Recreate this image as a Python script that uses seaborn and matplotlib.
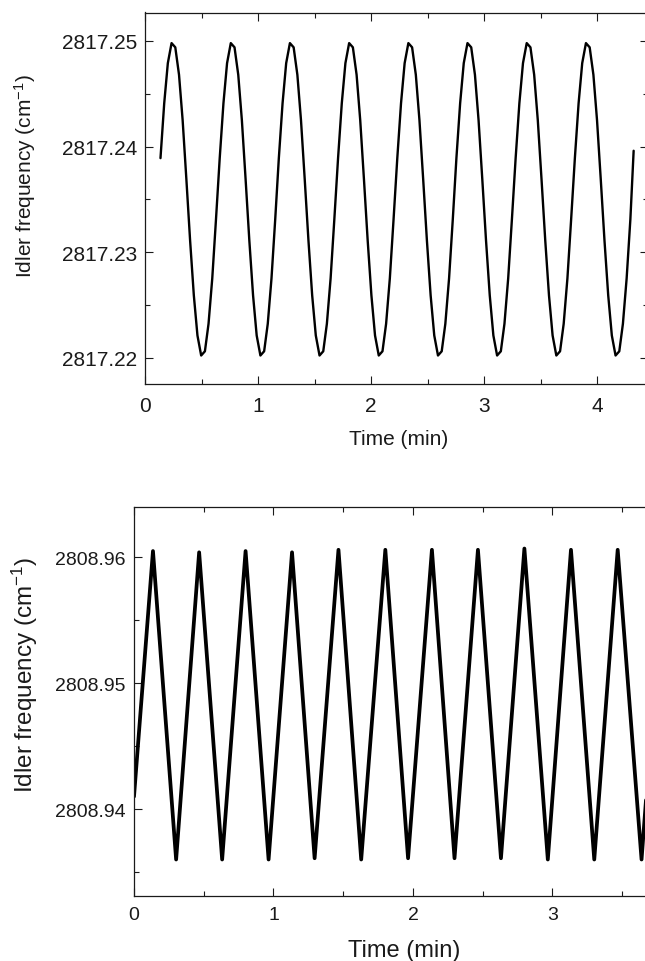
import matplotlib

matplotlib.use("Agg")
import matplotlib.pyplot as plt
import seaborn as sns
from matplotlib.ticker import FormatStrFormatter, MultipleLocator

# Top trace: sinusoidal idler tuning (min, cm-1)
TOP_TIME = [
    0.137, 0.170, 0.202, 0.235, 0.268, 0.301, 0.333, 0.366, 0.399, 0.432, 0.464, 0.497, 0.530, 0.562, 0.595, 0.628,
    0.661, 0.694, 0.726, 0.759, 0.792, 0.825, 0.857, 0.890, 0.923, 0.956, 0.988, 1.021, 1.054, 1.086, 1.119, 1.152,
    1.184, 1.217, 1.249, 1.282, 1.315, 1.348, 1.380, 1.413, 1.446, 1.479, 1.511, 1.544, 1.577, 1.609, 1.642, 1.675,
    1.708, 1.741, 1.773, 1.806, 1.839, 1.872, 1.904, 1.937, 1.970, 2.003, 2.035, 2.068, 2.101, 2.133, 2.166, 2.199,
    2.232, 2.265, 2.297, 2.330, 2.363, 2.396, 2.428, 2.461, 2.494, 2.527, 2.559, 2.592, 2.625, 2.657, 2.690, 2.723,
    2.755, 2.788, 2.820, 2.853, 2.886, 2.919, 2.951, 2.984, 3.017, 3.050, 3.082, 3.115, 3.148, 3.180, 3.213, 3.246,
    3.279, 3.312, 3.344, 3.377, 3.410, 3.443, 3.475, 3.508, 3.541, 3.574, 3.606, 3.639, 3.672, 3.704, 3.737, 3.770,
    3.803, 3.836, 3.868, 3.901, 3.934, 3.967, 3.999, 4.032, 4.065, 4.098, 4.130, 4.163, 4.196, 4.228, 4.261, 4.294,
    4.323,
]
TOP_FREQ = [
    2817.2389, 2817.2441, 2817.2479, 2817.2498, 2817.2494, 2817.2468, 2817.2425, 2817.2369,
    2817.2311, 2817.2259, 2817.2221, 2817.2202, 2817.2206, 2817.2232, 2817.2275, 2817.2331,
    2817.2389, 2817.2441, 2817.2479, 2817.2498, 2817.2494, 2817.2468, 2817.2425, 2817.2369,
    2817.2311, 2817.2259, 2817.2221, 2817.2202, 2817.2206, 2817.2232, 2817.2275, 2817.2331,
    2817.2389, 2817.2441, 2817.2479, 2817.2498, 2817.2494, 2817.2468, 2817.2425, 2817.2369,
    2817.2311, 2817.2259, 2817.2221, 2817.2202, 2817.2206, 2817.2232, 2817.2275, 2817.2331,
    2817.2389, 2817.2441, 2817.2479, 2817.2498, 2817.2494, 2817.2468, 2817.2425, 2817.2369,
    2817.2311, 2817.2259, 2817.2221, 2817.2202, 2817.2206, 2817.2232, 2817.2275, 2817.2331,
    2817.2389, 2817.2441, 2817.2479, 2817.2498, 2817.2494, 2817.2468, 2817.2425, 2817.2369,
    2817.2311, 2817.2259, 2817.2221, 2817.2202, 2817.2206, 2817.2232, 2817.2275, 2817.2331,
    2817.2389, 2817.2441, 2817.2479, 2817.2498, 2817.2494, 2817.2468, 2817.2425, 2817.2369,
    2817.2311, 2817.2259, 2817.2221, 2817.2202, 2817.2206, 2817.2232, 2817.2275, 2817.2331,
    2817.2389, 2817.2441, 2817.2479, 2817.2498, 2817.2494, 2817.2468, 2817.2425, 2817.2369,
    2817.2311, 2817.2259, 2817.2221, 2817.2202, 2817.2206, 2817.2232, 2817.2275, 2817.2331,
    2817.2389, 2817.2441, 2817.2479, 2817.2498, 2817.2494, 2817.2468, 2817.2425, 2817.2369,
    2817.2311, 2817.2259, 2817.2221, 2817.2202, 2817.2206, 2817.2232, 2817.2275, 2817.2331,
    2817.2396,
]

# Bottom trace: triangular tuning, turning points
BOTTOM_TIME = [
    0.000, 0.136, 0.302, 0.467, 0.632, 0.800, 0.965, 1.133, 1.295, 1.466, 1.629, 1.802,
    1.965, 2.136, 2.298, 2.466, 2.631, 2.799, 2.967, 3.133, 3.300, 3.468, 3.639, 3.805,
]
BOTTOM_FREQ = [
    2808.9410, 2808.9605, 2808.9360, 2808.9604, 2808.9360, 2808.9605, 2808.9360, 2808.9604,
    2808.9361, 2808.9606, 2808.9360, 2808.9606, 2808.9361, 2808.9606, 2808.9361, 2808.9606,
    2808.9361, 2808.9607, 2808.9360, 2808.9606, 2808.9360, 2808.9606, 2808.9360, 2808.9605,
]

TOP_YTICKS = [2817.22, 2817.23, 2817.24, 2817.25]
BOTTOM_YTICKS = [2808.94, 2808.95, 2808.96]

YLABEL = r"Idler frequency (cm$^{-1}$)"
XLABEL = "Time (min)"
INK = "#1a1a1a"


def style_axis(ax, labelsize, xpad, ypad):
    ax.xaxis.set_major_locator(MultipleLocator(1))
    ax.xaxis.set_minor_locator(MultipleLocator(0.5))
    ax.yaxis.set_major_formatter(FormatStrFormatter("%.2f"))
    ax.tick_params(which="both", direction="in", top=True, right=True, width=0.8, color=INK)
    ax.tick_params(which="major", length=5.5)
    ax.tick_params(which="minor", length=3.5)
    ax.tick_params(axis="x", which="major", labelsize=labelsize, pad=xpad, labelcolor=INK)
    ax.tick_params(axis="y", which="major", labelsize=labelsize, pad=ypad, labelcolor=INK)
    for spine in ax.spines.values():
        spine.set_visible(True)
        spine.set_linewidth(0.9)
        spine.set_color(INK)
    ax.grid(False)


def main() -> None:
    sns.set_theme(style="ticks")
    plt.rcParams["font.family"] = ["Liberation Sans", "DejaVu Sans"]
    plt.rcParams["mathtext.fontset"] = "custom"
    plt.rcParams["mathtext.rm"] = "Liberation Sans"
    plt.rcParams["mathtext.it"] = "Liberation Sans:italic"

    fig = plt.figure(figsize=(6.45, 9.62), dpi=100)
    fig.patch.set_facecolor("white")

    # top panel (right side cropped by the figure edge, as in the source)
    ax_top = fig.add_axes([145 / 645, 1 - 385 / 962, 503 / 645, 371.5 / 962])
    sns.lineplot(x=TOP_TIME, y=TOP_FREQ, ax=ax_top, color="black", linewidth=1.7, sort=False)
    ax_top.set_xlim(0, 4.45)
    ax_top.set_ylim(2817.2175, 2817.2527)
    ax_top.set_yticks(TOP_YTICKS)
    ax_top.yaxis.set_minor_locator(MultipleLocator(0.005))
    style_axis(ax_top, 15, 9, 5.5)
    ax_top.set_xlabel(XLABEL, fontsize=15, color=INK, va="center")
    ax_top.xaxis.set_label_coords(0.505, -0.148)
    ax_top.set_ylabel(YLABEL, fontsize=15, color=INK, va="center")
    ax_top.yaxis.set_label_coords(-0.2386, 0.561)

    # bottom panel
    ax_bot = fig.add_axes([134 / 645, 1 - 897 / 962, 530 / 645, 389 / 962])
    sns.lineplot(x=BOTTOM_TIME, y=BOTTOM_FREQ, ax=ax_bot, color="black", linewidth=2.7, sort=False)
    ax_bot.set_xlim(0, 3.8)
    ax_bot.set_ylim(2808.9331, 2808.964)
    ax_bot.set_yticks(BOTTOM_YTICKS)
    ax_bot.yaxis.set_minor_locator(MultipleLocator(0.005))
    style_axis(ax_bot, 14, 7.5, 6)
    ax_bot.set_xlabel(XLABEL, fontsize=17, color=INK, va="center")
    ax_bot.xaxis.set_label_coords(0.509, -0.139)
    ax_bot.set_ylabel(YLABEL, fontsize=17.5, color=INK, va="center")
    ax_bot.yaxis.set_label_coords(-0.2065, 0.571)

    fig.savefig("out.png", dpi=100, facecolor="white")
    plt.close(fig)


if __name__ == "__main__":
    main()
